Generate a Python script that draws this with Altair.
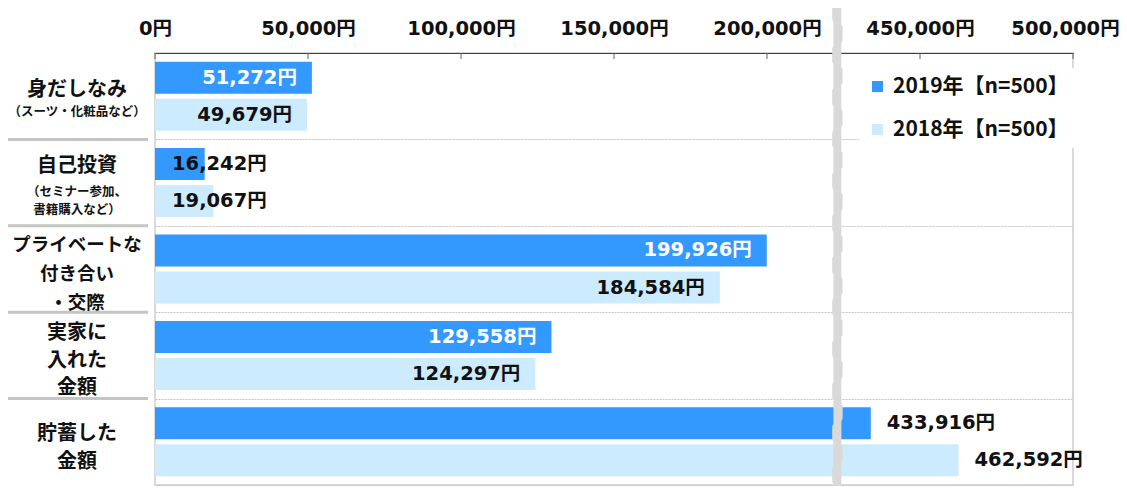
import altair as alt
import pandas as pd

# ---------------- data ----------------
categories = ["身だしなみ", "自己投資", "プライベートな付き合い・交際", "実家に入れた金額", "貯蓄した金額"]
main_labels = ["身だしなみ", "自己投資", "プライベートな\n付き合い\n・交際", "実家に\n入れた\n金額", "貯蓄した\n金額"]
sub_labels = ["（スーツ・化粧品など）", "（セミナー参加、\n書籍購入など）", "", "", ""]
series = ["2019年【n=500】", "2018年【n=500】"]
values_2019 = [51272, 16242, 199926, 129558, 433916]
values_2018 = [49679, 19067, 184584, 124297, 462592]
tick_values = [0, 50000, 100000, 150000, 200000, 450000, 500000]

# broken axis: values above 300,000 are shown shifted down by 200,000
GAP = 200000
CUT = 300000
BREAK_AT = 223000

BLUE = "#3399FF"
LIGHT = "#CCEBFF"
FONT = "Noto Sans CJK JP"
NUMFONT = "DejaVu Sans, Noto Sans CJK JP"
TXT = "#111111"

rows = []
for c, v19, v18 in zip(categories, values_2019, values_2018):
    rows.append({"cat": c, "series": series[0], "value": v19})
    rows.append({"cat": c, "series": series[1], "value": v18})
df = pd.DataFrame(rows)

lab_df = pd.DataFrame({"cat": categories, "main": main_labels, "sub": sub_labels})
tick_df = pd.DataFrame({"t": tick_values})

disp_expr = f"datum.value > {CUT} ? datum.value - {GAP} : datum.value"
label_expr = "format(datum.value, ',') + '円'"

W, H = 918, 432
PX = 300000 / W  # data units per pixel

xscale = alt.Scale(domain=[0, 300000], nice=False, zero=True)
yscale = alt.Scale(domain=categories, paddingInner=0, paddingOuter=0)
yoff_scale = alt.Scale(domain=series, paddingInner=0.135, paddingOuter=0.235)

XAX = alt.Axis(
    orient="top",
    values=[0, 50000, 100000, 150000, 200000, 250000, 300000],
    labelExpr=f"(datum.value > 220000 ? format(datum.value + {GAP}, ',') : format(datum.value, ',')) + '円'",
    labelFont=NUMFONT,
    labelFontSize=19.5,
    labelFontWeight="bold",
    labelColor=TXT,
    labelPadding=15,
    labelOffset={"condition": {"test": "datum.value >= 300000", "value": -8}, "value": 0},
    labelFlush=False,
    labelOverlap=False,
    ticks=False,
    grid=False,
    domainColor="#404040",
    domainWidth=1,
    title=None,
)
YAX = alt.Axis(
    labels=False,
    ticks=False,
    domain=False,
    grid=True,
    gridColor="#c4c4c4",
    gridDash=[2, 1],
    gridWidth=1,
    tickBand="extent",
    title=None,
)

Y = alt.Y("cat:N", sort=categories, scale=yscale, axis=YAX)
YO = alt.YOffset("series:N", sort=series, scale=yoff_scale)


def X(field):
    return alt.X(field, scale=xscale, axis=XAX)


base = alt.Chart(df).transform_calculate(disp=disp_expr, label=label_expr, zero="0")

bars = base.mark_bar().encode(
    x=X("disp:Q"),
    y=Y,
    yOffset=YO,
    color=alt.Color(
        "series:N",
        sort=series,
        scale=alt.Scale(domain=series, range=[BLUE, LIGHT]),
        legend=alt.Legend(
            orient="none",
            legendX=704,
            legendY=15,
            title=None,
            symbolType="square",
            symbolSize=121,
            symbolStrokeWidth=0,
            labelFont=FONT,
            labelFontSize=21,
            labelFontWeight="bold",
            labelColor=TXT,
            labelOffset=5,
            labelLimit=400,
            fillColor="white",
            padding=8,
            rowPadding=21,
        ),
    ),
)

# small ticks hanging down from the top axis line
ticks = alt.Chart(tick_df).transform_calculate(
    d=f"datum.t > {CUT} ? datum.t - {GAP} : datum.t"
).mark_rule(color="#606060", strokeWidth=1).encode(
    x=X("d:Q"),
    y=alt.value(0),
    y2=alt.value(6),
)

# axis break marker
brk_df = pd.DataFrame({"b": [BREAK_AT]})
BY1, BY2 = -46, H + 1
brk_base = alt.Chart(brk_df).mark_rule(color="#d9d9d9", strokeWidth=8).encode(
    x=X("b:Q"), y=alt.value(BY1), y2=alt.value(BY2)
)
brk_left = alt.Chart(brk_df).transform_calculate(bb=f"datum.b - {2.2 * PX}").mark_rule(
    color="#d9d9d9", strokeWidth=6, strokeCap="round", strokeDash=[12, 30]
).encode(x=X("bb:Q"), y=alt.value(BY1), y2=alt.value(BY2))
brk_right = alt.Chart(brk_df).transform_calculate(bb=f"datum.b + {2.2 * PX}").mark_rule(
    color="#d9d9d9", strokeWidth=6, strokeCap="round", strokeDash=[12, 30], strokeDashOffset=21
).encode(x=X("bb:Q"), y=alt.value(BY1), y2=alt.value(BY2))

# value labels
txt_kw = dict(font=NUMFONT, fontSize=19.5, fontWeight="bold", baseline="middle")
lbl_mid = base.transform_filter("datum.disp >= 30000 && datum.disp < 220000").mark_text(
    align="right", dx=-15, **txt_kw
).encode(
    x=X("disp:Q"),
    y=Y,
    yOffset=YO,
    text="label:N",
    color=alt.condition(f"datum.series == '{series[0]}'", alt.value("white"), alt.value(TXT)),
)
lbl_small = base.transform_filter("datum.disp < 30000").mark_text(
    align="left", dx=17, **txt_kw
).encode(
    x=X("zero:Q"),
    y=Y,
    yOffset=YO,
    text="label:N",
    color=alt.value(TXT),
)
lbl_big = base.transform_filter("datum.disp >= 220000").mark_text(
    align="left", dx=16, **txt_kw
).encode(
    x=X("disp:Q"),
    y=Y,
    yOffset=YO,
    text="label:N",
    color=alt.value(TXT),
)

# category labels (left of the plot); dy positions the first line
LX = -78
main_specs = [  # (dy, lineHeight, fontSize)
    (-6, 27, 20),
    (-17, 27, 20),
    (-24.5, 29, 18.5),
    (-22, 27.5, 20),
    (-7.5, 27.5, 20),
]
sub_specs = [(16, 18), (9, 18), None, None, None]

cat_layers = []
for i, c in enumerate(categories):
    dy, lh, fs = main_specs[i]
    cat_layers.append(
        alt.Chart(lab_df).transform_filter(alt.datum.cat == c).mark_text(
            font=FONT, fontSize=fs, fontWeight="bold", align="center", baseline="middle",
            lineBreak="\n", lineHeight=lh, dy=dy, color=TXT,
        ).encode(x=alt.value(LX), y=Y, text="main:N")
    )
    if sub_specs[i] is not None:
        sdy, slh = sub_specs[i]
        cat_layers.append(
            alt.Chart(lab_df).transform_filter(alt.datum.cat == c).mark_text(
                font=FONT, fontSize=12.5, fontWeight="bold", align="center", baseline="middle",
                lineBreak="\n", lineHeight=slh, dy=sdy, color=TXT,
            ).encode(x=alt.value(LX), y=Y, text="sub:N")
        )

# thick gray separators left of the plot
sep = alt.Chart(lab_df).transform_filter(alt.datum.cat != categories[0]).mark_rule(
    color="#c3c6c3", strokeWidth=3
).encode(
    x=alt.value(-147),
    x2=alt.value(-7),
    y=alt.Y("cat:N", sort=categories, scale=yscale, axis=YAX, bandPosition=0),
)

chart = alt.layer(
    bars, ticks, brk_base, brk_left, brk_right, lbl_mid, lbl_small, lbl_big, sep, *cat_layers
).properties(
    width=W,
    height=H,
    autosize=alt.AutoSizeParams(type="none"),
    padding={"left": 147, "top": 45, "right": 46, "bottom": 1},
).configure_view(stroke="#d9d9d9", strokeWidth=2)

chart.save("out.html", embed_options={"renderer": "svg", "actions": False})
